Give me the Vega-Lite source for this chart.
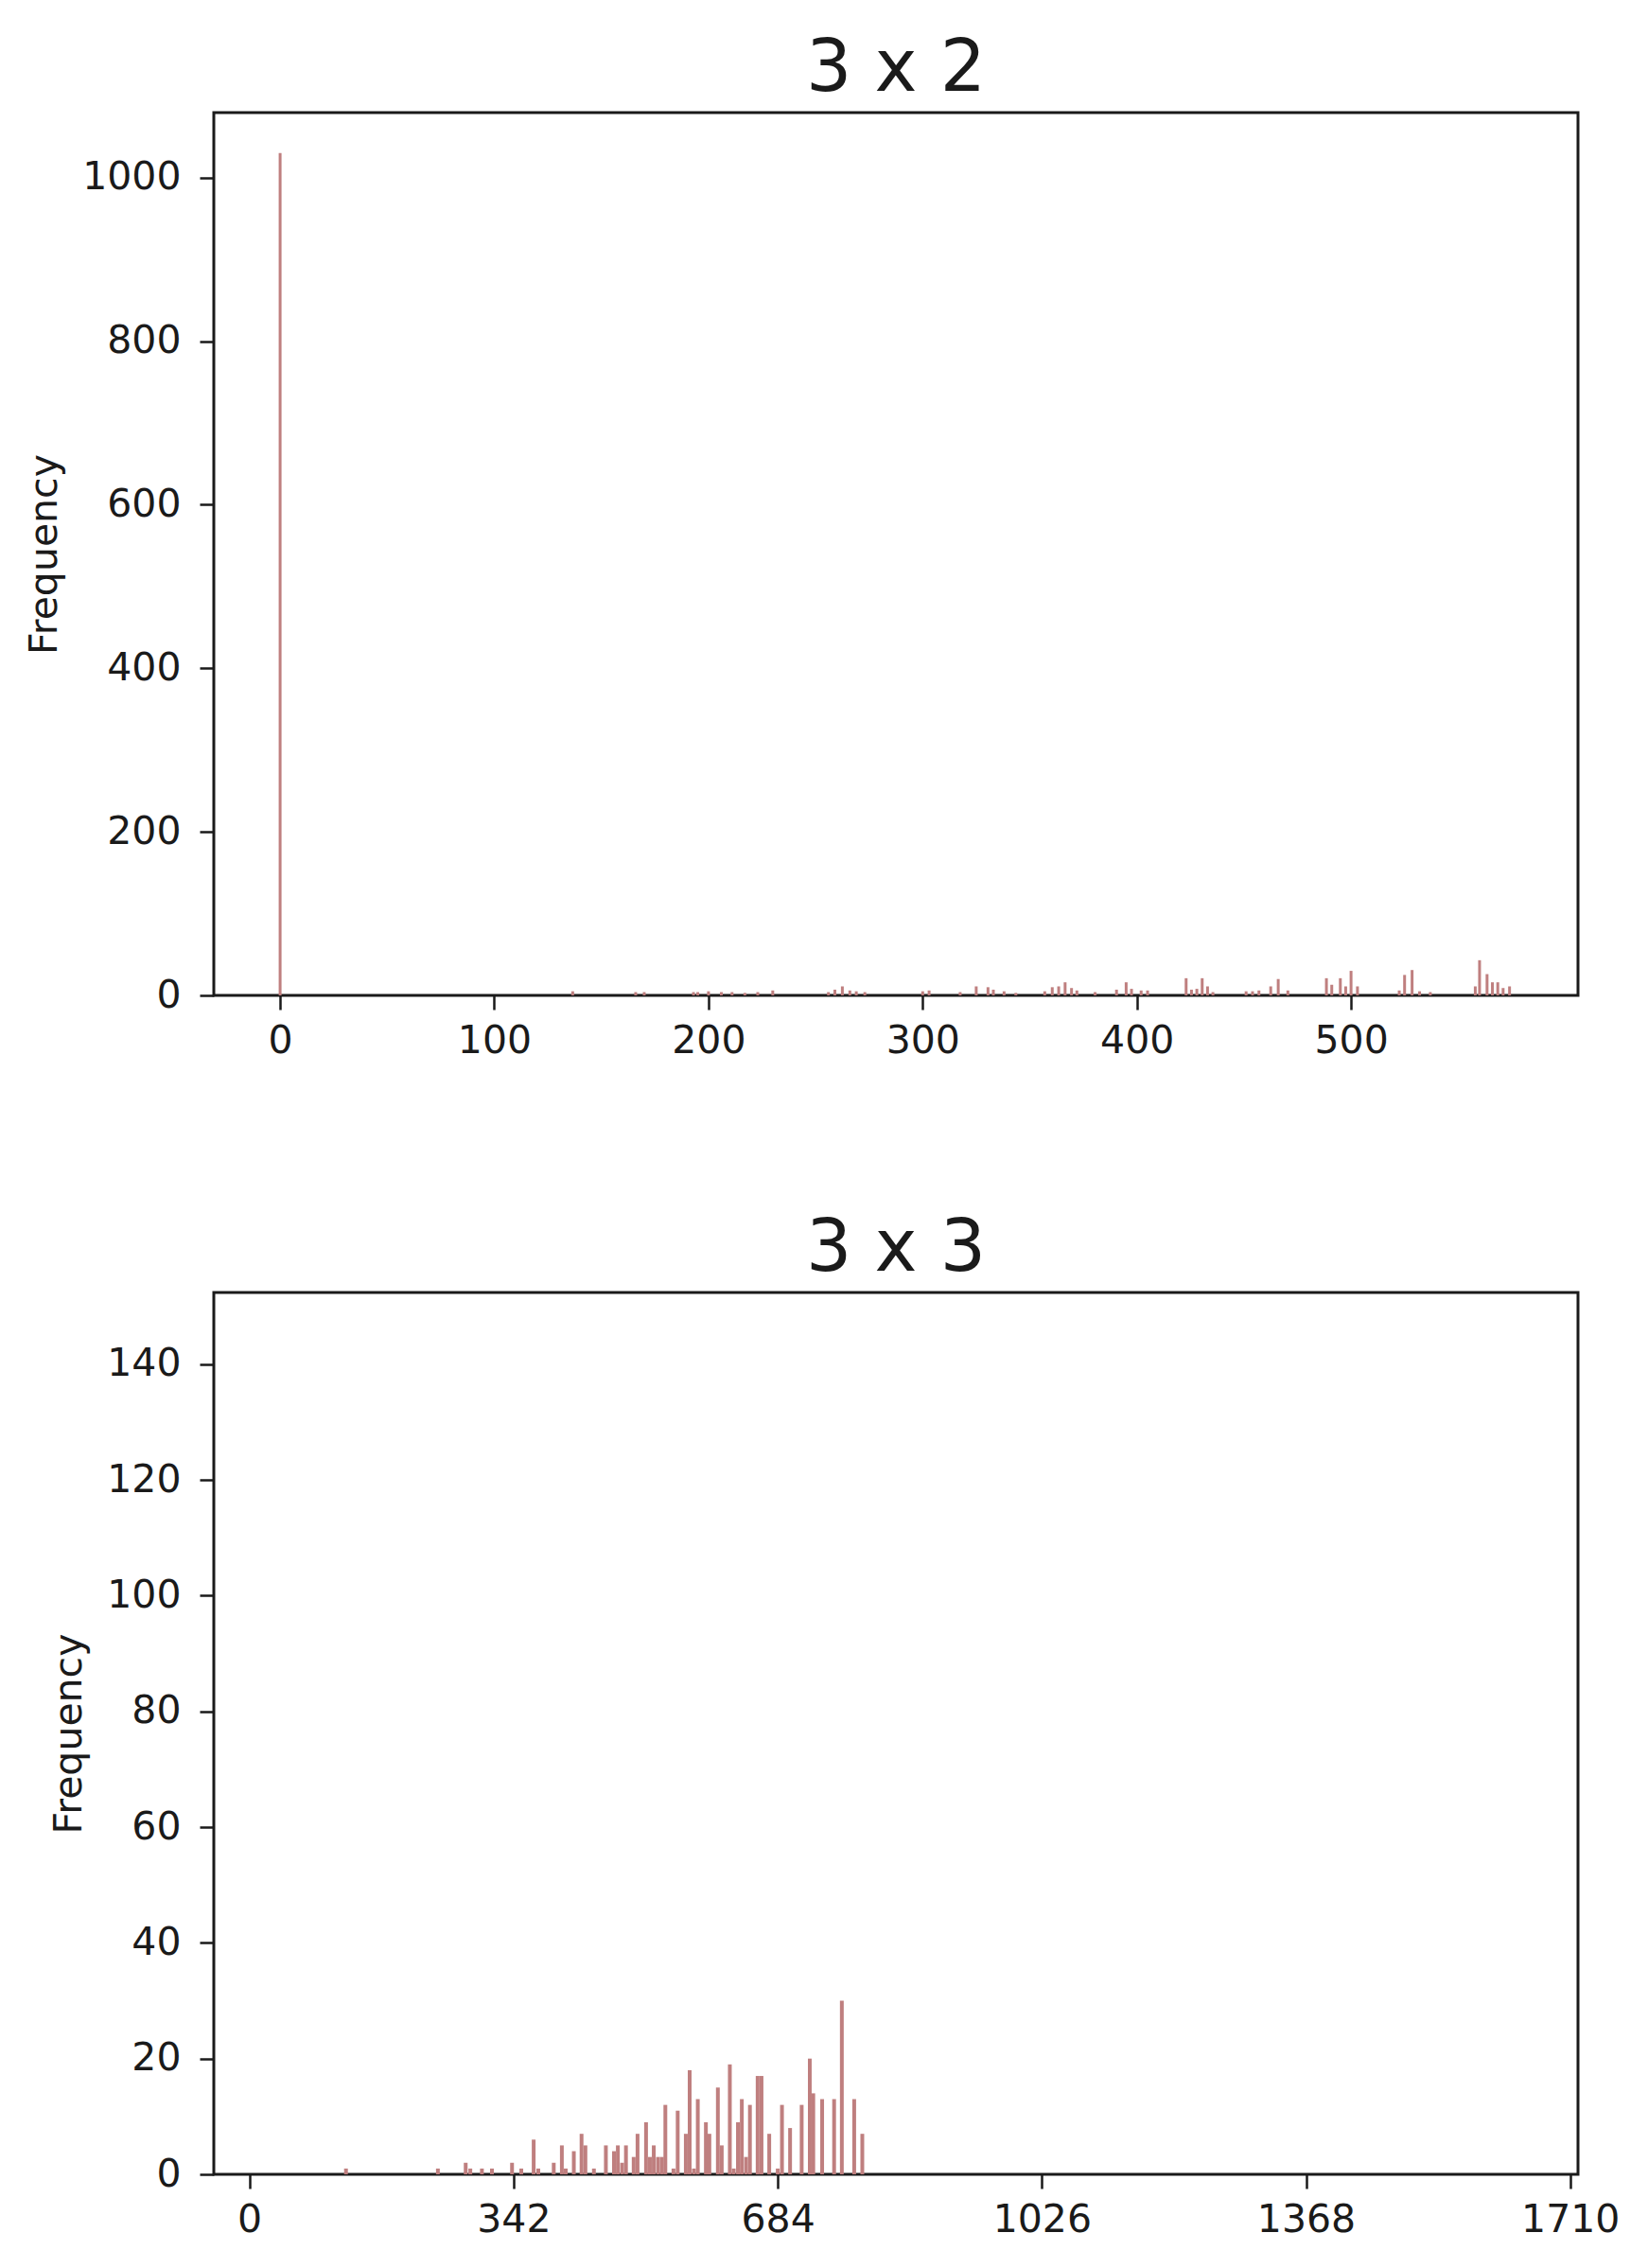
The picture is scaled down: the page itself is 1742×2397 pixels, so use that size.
{
  "$schema": "https://vega.github.io/schema/vega-lite/v6.json",
  "background": "white",
  "padding": {"left": 25, "top": 33, "right": 10, "bottom": 10},
  "config": {
    "font": "DejaVu Sans",
    "view": {"stroke": "#1a1a1a", "strokeWidth": 3},
    "axis": {
      "domain": false,
      "grid": false,
      "tickColor": "#1a1a1a",
      "tickWidth": 2.5,
      "tickSize": 15,
      "labelFont": "DejaVu Sans",
      "labelFontSize": 41,
      "labelColor": "#1a1a1a",
      "labelFlush": false,
      "labelOverlap": false,
      "titleFont": "DejaVu Sans",
      "titleFontSize": 41,
      "titleFontWeight": "normal",
      "titleColor": "#1a1a1a"
    },
    "axisX": {"labelPadding": 13},
    "axisY": {"labelPadding": 20, "titlePadding": 18},
    "title": {"font": "DejaVu Sans", "fontSize": 76, "fontWeight": "normal", "color": "#1a1a1a", "offset": 7, "frame": "group"},
    "concat": {"spacing": 158}
  },
  "vconcat": [
    {
      "title": "3 x 2",
      "width": 1442,
      "height": 933,
      "data": {"values": [
        {"v": 0, "n": 1030}, {"v": 136.6, "n": 5}, {"v": 166, "n": 4}, {"v": 170, "n": 4}, {"v": 193, "n": 4}, {"v": 195, "n": 4},
        {"v": 200, "n": 5}, {"v": 206, "n": 4}, {"v": 211, "n": 4}, {"v": 217, "n": 3}, {"v": 223, "n": 4}, {"v": 230, "n": 6},
        {"v": 256, "n": 4}, {"v": 259, "n": 7}, {"v": 262.5, "n": 11}, {"v": 266, "n": 6}, {"v": 269, "n": 5}, {"v": 273, "n": 4},
        {"v": 300, "n": 5}, {"v": 303, "n": 6}, {"v": 317.5, "n": 4}, {"v": 325, "n": 11}, {"v": 330.5, "n": 10}, {"v": 333, "n": 7},
        {"v": 338, "n": 5}, {"v": 343.5, "n": 3}, {"v": 357, "n": 5}, {"v": 360.5, "n": 10}, {"v": 363.5, "n": 11}, {"v": 366.5, "n": 16},
        {"v": 369.5, "n": 9}, {"v": 372, "n": 6}, {"v": 380.5, "n": 4}, {"v": 390.5, "n": 7}, {"v": 395, "n": 16}, {"v": 397.5, "n": 8},
        {"v": 402, "n": 6}, {"v": 405, "n": 6}, {"v": 423, "n": 21}, {"v": 425.5, "n": 7}, {"v": 428, "n": 8}, {"v": 430.5, "n": 21},
        {"v": 433, "n": 11}, {"v": 435.5, "n": 4}, {"v": 451, "n": 5}, {"v": 454, "n": 5}, {"v": 457, "n": 6}, {"v": 462.5, "n": 11},
        {"v": 466, "n": 20}, {"v": 470.5, "n": 6}, {"v": 488.5, "n": 21}, {"v": 491, "n": 13}, {"v": 495, "n": 21}, {"v": 497.5, "n": 11},
        {"v": 500, "n": 30}, {"v": 503, "n": 11}, {"v": 522.5, "n": 6}, {"v": 525, "n": 25}, {"v": 528.5, "n": 31}, {"v": 532, "n": 5},
        {"v": 537, "n": 4}, {"v": 558, "n": 11}, {"v": 560, "n": 43}, {"v": 563.5, "n": 26}, {"v": 566, "n": 16}, {"v": 568.5, "n": 16},
        {"v": 571, "n": 9}, {"v": 574, "n": 11}
      ]},
      "mark": {"type": "bar", "width": 3, "color": "#bf7f7f"},
      "encoding": {
        "x": {"field": "v", "type": "quantitative", "scale": {"domain": [-28.75, 603.75], "nice": false, "zero": false}, "axis": {"values": [0, 100, 200, 300, 400, 500], "title": null, "format": "d"}},
        "y": {"field": "n", "type": "quantitative", "scale": {"domain": [0, 1079.5], "nice": false}, "axis": {"values": [0, 200, 400, 600, 800, 1000], "title": "Frequency", "format": "d"}}
      }
    },
    {
      "title": "3 x 3",
      "width": 1442,
      "height": 932,
      "data": {"values": [
        {"v": 125, "n": 1}, {"v": 244, "n": 1}, {"v": 280, "n": 2}, {"v": 286, "n": 1}, {"v": 301, "n": 1}, {"v": 314, "n": 1},
        {"v": 340, "n": 2}, {"v": 352, "n": 1}, {"v": 368, "n": 6}, {"v": 374, "n": 1}, {"v": 394, "n": 2}, {"v": 404.5, "n": 5},
        {"v": 409.5, "n": 1}, {"v": 420, "n": 4}, {"v": 430, "n": 7}, {"v": 435, "n": 5}, {"v": 446, "n": 1}, {"v": 461.5, "n": 5},
        {"v": 472, "n": 4}, {"v": 477, "n": 5}, {"v": 482.5, "n": 2}, {"v": 487.5, "n": 5}, {"v": 497.5, "n": 3}, {"v": 502.5, "n": 7},
        {"v": 513.5, "n": 9}, {"v": 518.5, "n": 3}, {"v": 523.5, "n": 5}, {"v": 529, "n": 3}, {"v": 534, "n": 3}, {"v": 538.5, "n": 12},
        {"v": 549, "n": 1}, {"v": 554.5, "n": 11}, {"v": 565, "n": 7}, {"v": 570, "n": 18}, {"v": 575.5, "n": 1}, {"v": 580.5, "n": 13},
        {"v": 591, "n": 9}, {"v": 595.5, "n": 7}, {"v": 606.5, "n": 15}, {"v": 611.5, "n": 5}, {"v": 622, "n": 19}, {"v": 627, "n": 1},
        {"v": 632.5, "n": 9}, {"v": 637.5, "n": 13}, {"v": 643, "n": 3}, {"v": 648, "n": 12}, {"v": 658, "n": 17}, {"v": 663, "n": 17},
        {"v": 673, "n": 7}, {"v": 684, "n": 1}, {"v": 689.5, "n": 12}, {"v": 700, "n": 8}, {"v": 715, "n": 12}, {"v": 725.5, "n": 20},
        {"v": 730, "n": 14}, {"v": 741.5, "n": 13}, {"v": 757, "n": 13}, {"v": 767, "n": 30}, {"v": 783, "n": 13}, {"v": 793.5, "n": 7}
      ]},
      "mark": {"type": "bar", "width": 4, "color": "#bf7f7f"},
      "encoding": {
        "x": {"field": "v", "type": "quantitative", "scale": {"domain": [-40, 1714], "nice": false, "zero": false}, "axis": {"values": [0, 342, 684, 1026, 1368, 1710], "title": null, "format": "d"}},
        "y": {"field": "n", "type": "quantitative", "scale": {"domain": [0, 152.4], "nice": false}, "axis": {"values": [0, 20, 40, 60, 80, 100, 120, 140], "title": "Frequency", "format": "d"}}
      }
    }
  ]
}
